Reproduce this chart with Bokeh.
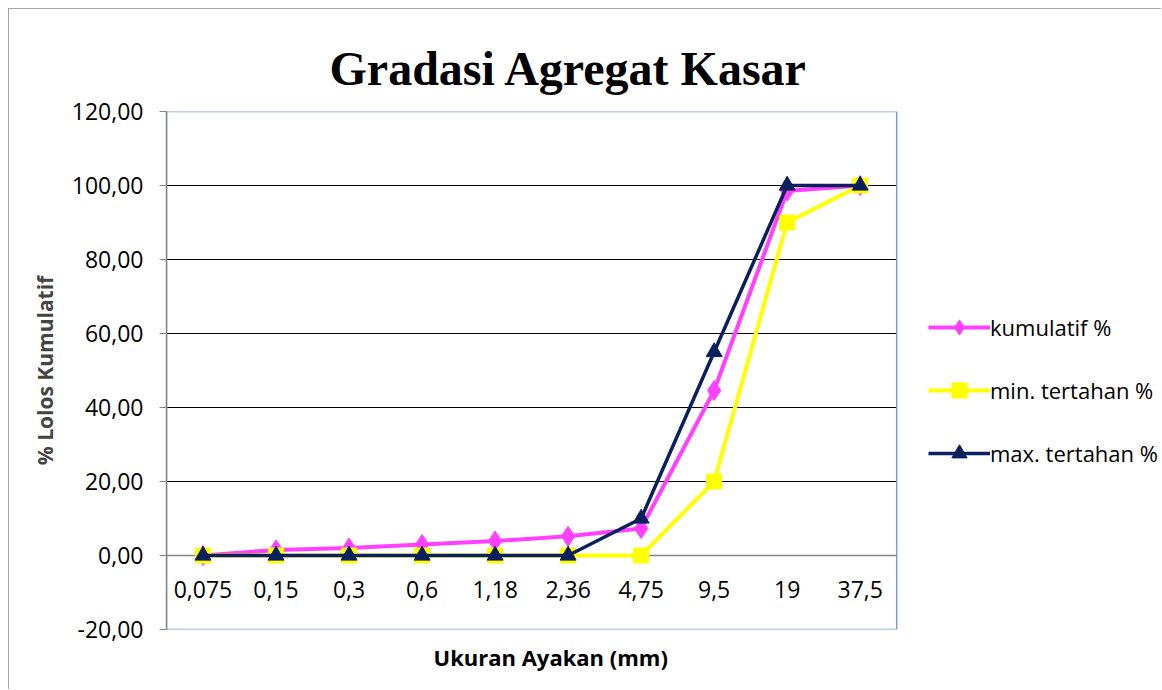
from bokeh.plotting import figure
from bokeh.models import Legend, LegendItem, FixedTicker, ColumnDataSource, Title
from bokeh.embed import file_html
from bokeh.resources import INLINE

sizes = ["0,075", "0,15", "0,3", "0,6", "1,18", "2,36", "4,75", "9,5", "19", "37,5"]
kumulatif = [0.0, 1.5, 2.0, 3.0, 3.9, 5.2, 7.3, 44.6, 98.5, 100.0]
min_tertahan = [0, 0, 0, 0, 0, 0, 0, 20, 90, 100]
max_tertahan = [0, 0, 0, 0, 0, 0, 10, 55, 100, 100]
y_ticks = [-20, 0, 20, 40, 60, 80, 100, 120]

xs = list(range(len(sizes)))
FONT = "Open Sans"

X0, X1 = -0.5, len(sizes) - 0.5      # plot-area extent in category units
Y0, Y1 = -20, 120
X_VIEW_END = 13.14                    # extra room on the right for the legend

p = figure(width=1153, height=681, output_backend="svg", toolbar_location=None,
           x_range=(X0, X_VIEW_END), y_range=(Y0, Y1),
           min_border_left=157, min_border_right=0, min_border_top=102, min_border_bottom=61)
p.styles = {"border-left": "1px solid #A6A6A6", "border-top": "1px solid #A6A6A6",
            "margin-left": "8px", "margin-top": "8px"}
p.background_fill_color = "white"
p.border_fill_color = "white"
p.outline_line_color = None

p.title.text = "Gradasi Agregat Kasar"
p.title.text_font = "Liberation Serif"
p.title.text_font_style = "bold"
p.title.text_font_size = "48px"
p.title.text_color = "black"
p.title.align = "left"
p.title.offset = 163
p.title.standoff = 33

p.xgrid.visible = False
p.ygrid.visible = False

# horizontal gridlines limited to the plot area
grid_y = [t for t in y_ticks if t not in (0, Y0, Y1)]
p.segment(x0=[X0] * len(grid_y), x1=[X1] * len(grid_y), y0=grid_y, y1=grid_y,
          line_color="black", line_width=1)
# plot-area border
p.quad(left=[X0], right=[X1], bottom=[Y0], top=[Y1], fill_color=None,
       line_color="#7F9ED0", line_width=1.5)
# category axis line at y = 0
p.segment(x0=[X0], x1=[X1], y0=[0], y1=[0], line_color="#868686", line_width=1.5)

# y axis
p.yaxis.ticker = FixedTicker(ticks=y_ticks)
p.yaxis.major_label_overrides = {t: f"{t},00" for t in y_ticks}
p.yaxis.major_label_text_font = FONT
p.yaxis.major_label_text_font_size = "23px"
p.yaxis.major_label_text_color = "black"
p.yaxis.axis_line_color = "#868686"
p.yaxis.axis_line_width = 1.5
p.yaxis.major_tick_line_color = "#868686"
p.yaxis.major_tick_out = 7
p.yaxis.major_tick_in = 0
p.yaxis.minor_tick_line_color = None
p.yaxis.major_label_standoff = 16
p.yaxis.axis_label = "% Lolos Kumulatif"
p.yaxis.axis_label_text_font = FONT
p.yaxis.axis_label_text_font_style = "bold"
p.yaxis.axis_label_text_font_size = "21px"
p.yaxis.axis_label_standoff = 10

# x axis labels at y = 0
p.xaxis.fixed_location = 0
p.xaxis.ticker = FixedTicker(ticks=xs)
p.xaxis.major_label_overrides = {i: s for i, s in enumerate(sizes)}
p.xaxis.major_label_text_font = FONT
p.xaxis.major_label_text_font_size = "23px"
p.xaxis.major_label_text_color = "black"
p.xaxis.axis_line_color = None
p.xaxis.major_tick_line_color = None
p.xaxis.minor_tick_line_color = None
p.xaxis.major_tick_out = 0
p.xaxis.major_tick_in = 0
p.xaxis.major_label_standoff = 25

xtitle = Title(text="Ukuran Ayakan (mm)", align="left", offset=267,
               text_font=FONT, text_font_style="bold", text_font_size="22px",
               text_color="black", standoff=20)
p.add_layout(xtitle, "below")

src = ColumnDataSource(dict(x=xs, k=kumulatif, mn=min_tertahan, mx=max_tertahan))

PINK, YEL, NAVY = "#FF40FF", "#FFFF00", "#0A1F5E"
l1 = p.line("x", "k", source=src, color=PINK, line_width=4)
m1 = p.scatter("x", "k", source=src, marker="diamond", size=20, color=PINK)
l2 = p.line("x", "mn", source=src, color=YEL, line_width=4)
m2 = p.scatter("x", "mn", source=src, marker="square", size=15, color=YEL)
l3 = p.line("x", "mx", source=src, color=NAVY, line_width=3.5)
m3 = p.scatter("x", "mx", source=src, marker="triangle", size=16, color=NAVY)

legend = Legend(items=[
    LegendItem(label="kumulatif %", renderers=[l1, m1]),
    LegendItem(label="min. tertahan %", renderers=[l2, m2]),
    LegendItem(label="max. tertahan %", renderers=[l3, m3]),
], location=(762, 157))
legend.padding = 0
legend.margin = 0
legend.border_line_alpha = 0
legend.background_fill_alpha = 0
legend.glyph_width = 62
legend.glyph_height = 38
legend.label_height = 38
legend.spacing = 25
legend.label_standoff = 0
legend.label_text_font = FONT
legend.label_text_font_size = "22px"
legend.label_text_color = "black"
p.add_layout(legend, "center")

open("out.html", "w").write(file_html(p, INLINE))
